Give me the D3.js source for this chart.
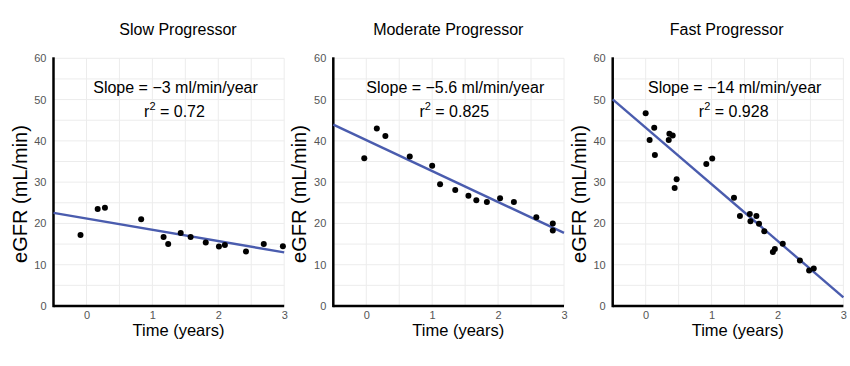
<!DOCTYPE html>
<html>
<head>
<meta charset="utf-8">
<script src="https://cdn.jsdelivr.net/npm/d3@7"></script>
<style>
  body { margin: 0; background: #fff; }
  svg { font-family: "Liberation Sans", Arial, sans-serif; }
  .tick text { fill: #555; font-size: 11px; }
</style>
</head>
<body>
<script>
// panel titles and fit annotations
const titles = ["Slow Progressor", "Moderate Progressor", "Fast Progressor"];
const slopeLabels = ["Slope = \u22123 ml/min/year", "Slope = \u22125.6 ml/min/year", "Slope = \u221214 ml/min/year"];
const r2Labels = ["0.72", "0.825", "0.928"];

// axis ticks
const xTicks = [0, 1, 2, 3];
const yTicks = [0, 10, 20, 30, 40, 50, 60];

// slow progressor
const slowTime = [-0.09, 0.17, 0.28, 0.83, 1.17, 1.24, 1.43, 1.58, 1.81, 2.01, 2.10, 2.42, 2.69, 2.98];
const slowEgfr = [17.2, 23.5, 23.8, 21.0, 16.7, 15.0, 17.7, 16.7, 15.4, 14.4, 14.8, 13.2, 15.0, 14.5];

// moderate progressor
const modTime = [-0.03, 0.16, 0.29, 0.66, 1.00, 1.12, 1.35, 1.55, 1.67, 1.83, 2.03, 2.24, 2.58, 2.83, 2.83];
const modEgfr = [35.8, 43.0, 41.2, 36.2, 34.0, 29.5, 28.1, 26.7, 25.6, 25.2, 26.1, 25.2, 21.5, 20.0, 18.3];

// fast progressor
const fastTime = [0.00, 0.06, 0.13, 0.14, 0.36, 0.35, 0.41, 0.44, 0.47, 0.92, 1.01, 1.34, 1.43, 1.58, 1.59, 1.68, 1.72, 1.80, 1.93, 1.96, 2.08, 2.34, 2.48, 2.55];
const fastEgfr = [46.7, 40.2, 43.2, 36.6, 41.7, 40.2, 41.3, 28.6, 30.7, 34.4, 35.7, 26.2, 21.8, 22.3, 20.5, 21.8, 19.9, 18.1, 13.1, 13.8, 15.1, 11.0, 8.6, 9.1];

// drawn regression lines (value at time 0, change per year)
const fitIntercept = [21.2, 40.2, 43.2];
const fitSlope = [-2.74, -7.5, -13.7];

const times = [slowTime, modTime, fastTime];
const egfrs = [slowEgfr, modEgfr, fastEgfr];

// layout
const w = 850, h = 366;
const lefts = [53.5, 333.3, 612.7];
const plotW = 230.7;
const plotTop = 58.3, plotBottom = 306;
const titleShift = [124.5, 115, 114];

const svg = d3.select("body").append("svg")
  .attr("width", w)
  .attr("height", h);

titles.forEach(function(title, p) {
  const left = lefts[p];
  const x = d3.scaleLinear().domain([-0.5, 3]).range([left, left + plotW]);
  const y = d3.scaleLinear().domain([0, 60]).range([plotBottom, plotTop]);
  const g = svg.append("g");

  // light grid
  g.selectAll(".vgrid")
    .data(d3.range(0, 3.01, 0.5))
    .enter().append("line")
    .attr("x1", d => x(d)).attr("x2", d => x(d))
    .attr("y1", y(0)).attr("y2", y(60))
    .attr("stroke", "#ececec").attr("stroke-width", 1);
  g.selectAll(".hgrid")
    .data(d3.range(5, 60.1, 5))
    .enter().append("line")
    .attr("x1", x(-0.5)).attr("x2", x(3))
    .attr("y1", d => y(d)).attr("y2", d => y(d))
    .attr("stroke", "#ececec").attr("stroke-width", 1);

  // tick labels
  g.append("g")
    .attr("transform", "translate(0," + plotBottom + ")")
    .call(d3.axisBottom(x).tickValues(xTicks).tickFormat(d3.format("d")).tickSize(0).tickPadding(5))
    .call(a => a.select(".domain").remove());
  g.append("g")
    .attr("transform", "translate(" + left + ",0)")
    .call(d3.axisLeft(y).tickValues(yTicks).tickFormat(d3.format("d")).tickSize(0).tickPadding(7))
    .call(a => a.select(".domain").remove());

  // axis lines
  g.append("line")
    .attr("x1", x(-0.5)).attr("x2", x(-0.5))
    .attr("y1", y(60) - 1).attr("y2", y(0) + 1.2)
    .attr("stroke", "#000").attr("stroke-width", 2.5);
  g.append("line")
    .attr("x1", x(-0.5)).attr("x2", x(3))
    .attr("y1", y(0)).attr("y2", y(0))
    .attr("stroke", "#000").attr("stroke-width", 2.5);

  // regression line
  g.append("line")
    .attr("x1", x(-0.5)).attr("y1", y(fitIntercept[p] + fitSlope[p] * -0.5))
    .attr("x2", x(3)).attr("y2", y(fitIntercept[p] + fitSlope[p] * 3))
    .attr("stroke", "#4a5cae").attr("stroke-width", 2.4);

  // points
  g.selectAll("circle")
    .data(times[p].map((t, i) => [t, egfrs[p][i]]))
    .enter().append("circle")
    .attr("cx", d => x(d[0]))
    .attr("cy", d => y(d[1]))
    .attr("r", 3)
    .attr("fill", "#000");

  // title
  g.append("text")
    .attr("x", left + titleShift[p]).attr("y", 35)
    .attr("text-anchor", "middle")
    .style("font-size", "16px")
    .text(title);

  // annotation
  g.append("text")
    .attr("x", left + 122).attr("y", 93)
    .attr("text-anchor", "middle")
    .style("font-size", "16px")
    .text(slopeLabels[p]);
  const r2 = g.append("text")
    .attr("x", left + 121).attr("y", 117)
    .attr("text-anchor", "middle")
    .style("font-size", "16px");
  r2.append("tspan").text("r");
  r2.append("tspan").attr("dy", -7).style("font-size", "11px").text("2");
  r2.append("tspan").attr("dy", 7).text(" = " + r2Labels[p]);

  // axis labels
  g.append("text")
    .attr("x", left + 125).attr("y", 336)
    .attr("text-anchor", "middle")
    .style("font-size", "16.5px")
    .text("Time (years)");
  g.append("text")
    .attr("transform", "translate(" + (left - 27) + ",194) rotate(-90)")
    .attr("text-anchor", "middle")
    .style("font-size", "20px")
    .text("eGFR (mL/min)");
});
</script>
</body>
</html>
